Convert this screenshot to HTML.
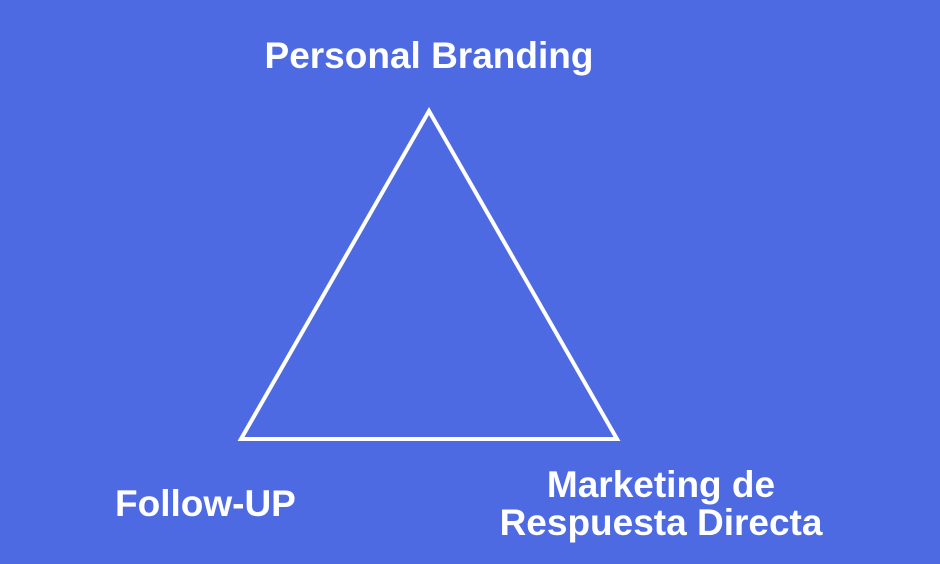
<!DOCTYPE html>
<html><head><meta charset="utf-8"><style>
html,body{margin:0;padding:0}
body{width:940px;height:564px;background:#4d6ae3;position:relative;overflow:hidden;font-family:"Liberation Sans",sans-serif;font-weight:bold;color:#fff}
.t{position:absolute;white-space:nowrap;font-size:37px;line-height:38px}
</style></head><body>
<svg width="940" height="564" style="position:absolute;left:0;top:0">
<polygon points="429,111 241,439 617,439" fill="none" stroke="#fff" stroke-width="4" stroke-linejoin="miter"/>
</svg>
<div class="t" style="left:229px;top:37px;width:400px;text-align:center">Personal Branding</div>
<div class="t" style="left:115px;top:485px">Follow-UP</div>
<div class="t" style="left:461px;top:466px;width:400px;text-align:center">Marketing de<br>Respuesta Directa</div>
</body></html>
